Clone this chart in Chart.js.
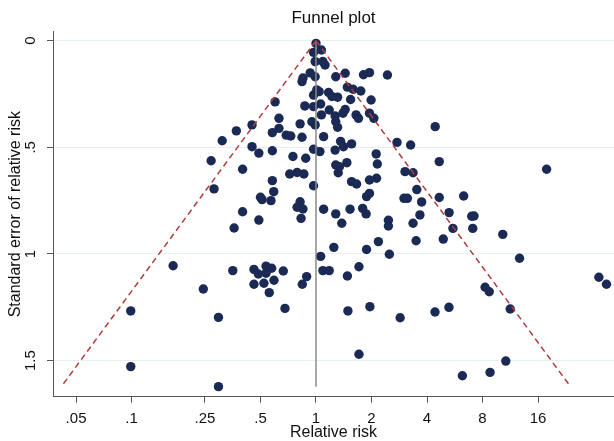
<!DOCTYPE html>
<html>
<head>
<meta charset="utf-8">
<script src="https://cdn.jsdelivr.net/npm/chart.js@4.4.1/dist/chart.umd.min.js"></script>
<style>
  body { margin: 0; background: #ffffff; }
  #wrap { width: 614px; height: 441px; }
</style>
</head>
<body>
<div id="wrap"><canvas id="funil" width="614" height="441"></canvas></div>
<script>
// valores (risco relativo x erro padrão)
const relRisk = [
    1.00, 0.97, 1.07, 0.99, 1.09, 1.12, 0.85, 0.93, 0.99, 0.84,
    1.28, 1.44, 1.81, 1.95, 2.44, 0.97, 1.01, 1.04, 1.17, 1.22,
    1.31, 1.48, 1.59, 1.75, 1.54, 1.99, 0.87, 0.97, 1.06, 1.07,
    1.18, 1.27, 1.40, 1.44, 1.65, 1.70, 1.95, 2.06, 0.95, 0.99,
    0.82, 1.28, 1.31, 0.60, 0.63, 0.58, 0.63, 0.69, 0.73, 0.84,
    0.45, 0.37, 0.31, 1.10, 1.36, 1.56, 1.41, 1.27, 2.75, 3.26,
    4.43, 0.45, 0.49, 0.58, 0.75, 0.88, 0.97, 1.05, 1.28, 1.34,
    1.47, 1.32, 2.12, 2.15, 0.27, 0.40, 4.66, 17.8, 0.72, 0.79,
    0.86, 0.58, 0.59, 0.97, 1.56, 1.66, 1.95, 2.13, 0.28, 3.04,
    3.36, 3.52, 1.88, 1.95, 0.50, 0.51, 0.57, 0.82, 0.79, 0.85,
    3.00, 3.13, 3.74, 4.66, 6.32, 0.40, 1.10, 1.28, 1.53, 1.79,
    1.87, 3.66, 5.27, 6.99, 7.19, 0.49, 0.83, 1.38, 2.47, 2.47,
    3.36, 5.53, 7.08, 0.36, 10.3, 2.18, 3.49, 4.90, 1.25, 1.88,
    2.50, 1.06, 12.7, 0.168, 0.354, 0.461, 0.487, 0.536, 0.575, 0.536,
    0.665, 0.461, 0.522, 0.592, 0.558, 0.843, 0.89, 0.679, 0.245, 0.099,
    0.296, 0.099, 0.296, 1.09, 1.18, 1.48, 1.71, 1.49, 1.96, 2.86,
    4.42, 5.26, 1.71, 6.22, 8.79, 10.7, 8.26, 8.70, 11.3, 34.2,
    37.6
];

const stdErr = [
    0.013, 0.055, 0.044, 0.098, 0.098, 0.114, 0.175, 0.151, 0.169, 0.192,
    0.169, 0.153, 0.160, 0.150, 0.161, 0.255, 0.231, 0.239, 0.243, 0.262,
    0.265, 0.218, 0.228, 0.236, 0.276, 0.278, 0.306, 0.309, 0.297, 0.348,
    0.325, 0.353, 0.340, 0.323, 0.348, 0.364, 0.340, 0.364, 0.380, 0.395,
    0.390, 0.380, 0.406, 0.287, 0.364, 0.431, 0.411, 0.443, 0.447, 0.453,
    0.395, 0.423, 0.469, 0.450, 0.472, 0.484, 0.497, 0.513, 0.477, 0.489,
    0.403, 0.497, 0.527, 0.516, 0.543, 0.551, 0.509, 0.520, 0.583, 0.591,
    0.572, 0.619, 0.531, 0.578, 0.563, 0.603, 0.567, 0.603, 0.625, 0.618,
    0.625, 0.656, 0.708, 0.680, 0.661, 0.672, 0.653, 0.645, 0.695, 0.614,
    0.619, 0.698, 0.731, 0.716, 0.734, 0.745, 0.750, 0.755, 0.781, 0.789,
    0.739, 0.739, 0.756, 0.735, 0.728, 0.802, 0.790, 0.812, 0.790, 0.786,
    0.812, 0.817, 0.806, 0.823, 0.822, 0.841, 0.833, 0.856, 0.842, 0.869,
    0.856, 0.880, 0.880, 0.878, 0.908, 0.942, 0.938, 0.930, 0.969, 0.979,
    1.001, 1.011, 1.020, 1.055, 1.078, 1.072, 1.094, 1.057, 1.067, 1.090,
    1.080, 1.142, 1.137, 1.123, 1.181, 1.142, 1.106, 1.255, 1.164, 1.267,
    1.297, 1.528, 1.622, 1.078, 1.078, 1.103, 1.060, 1.267, 1.247, 1.299,
    1.272, 1.250, 1.470, 1.571, 1.555, 1.502, 1.156, 1.177, 1.258, 1.109,
    1.142
];

// limites do funil (pseudo IC 95%) e linha do efeito nulo
const funilSe = [0, 1.622];
const funilEsq = [1, 0.0416];
const funilDir = [1, 24.0];
const linhaNula = [1, 1];

const xTicks = [0.05, 0.1, 0.25, 0.5, 1, 2, 4, 8, 16];
const xTickLabels = ['.05', '.1', '.25', '.5', '1', '2', '4', '8', '16'];
const yTicks = [0, 0.5, 1, 1.5];
const yTickLabels = ['0', '.5', '1', '1.5'];

Chart.defaults.font.family = '"Liberation Sans", Arial, sans-serif';
Chart.defaults.color = '#111111';

const pontos = relRisk.map((v, i) => ({ x: v, y: stdErr[i] }));

const config = {
    type: 'scatter',
    data: {
        datasets: [
            {
                type: 'line',
                data: funilSe.map((s, i) => ({ x: funilEsq[i], y: s })),
                borderColor: '#b23c3c',
                borderWidth: 1.5,
                borderDash: [6, 4],
                pointRadius: 0,
                fill: false
            },
            {
                type: 'line',
                data: funilSe.map((s, i) => ({ x: funilDir[i], y: s })),
                borderColor: '#b23c3c',
                borderWidth: 1.5,
                borderDash: [6, 4],
                pointRadius: 0,
                fill: false
            },
            {
                type: 'line',
                data: funilSe.map((s, i) => ({ x: linhaNula[i], y: s })),
                borderColor: '#8a8a8a',
                borderWidth: 1.5,
                pointRadius: 0,
                fill: false
            },
            {
                data: pontos,
                backgroundColor: '#1a2a55',
                borderWidth: 0,
                pointRadius: 4.7
            }
        ]
    },
    options: {
        responsive: false,
        animation: false,
        layout: { padding: 0, autoPadding: false },
        plugins: {
            legend: { display: false },
            tooltip: { enabled: false },
            title: {
                display: true,
                text: 'Funnel plot',
                fullSize: false,
                color: '#111111',
                font: { size: 17, weight: 'normal', lineHeight: 1.2 },
                padding: { top: 8, bottom: 3.3 }
            }
        },
        scales: {
            x: {
                type: 'logarithmic',
                position: 'bottom',
                min: 0.0375,
                max: 41.3,
                afterBuildTicks: (s) => { s.ticks = xTicks.map(v => ({ value: v })); },
                afterFit: (s) => { s.height = 44.3; },
                ticks: {
                    autoSkip: false,
                    maxRotation: 0,
                    minRotation: 0,
                    padding: 7,
                    font: { size: 15 },
                    callback: (v, i) => xTickLabels[i]
                },
                grid: {
                    drawOnChartArea: false,
                    drawTicks: true,
                    tickLength: 6,
                    tickColor: '#555555',
                    lineWidth: 1
                },
                border: { color: '#555555', width: 1 },
                title: {
                    display: true,
                    text: 'Relative risk',
                    font: { size: 16, lineHeight: 1 },
                    padding: { top: 0, bottom: 0 }
                }
            },
            y: {
                type: 'linear',
                reverse: true,
                min: -0.042,
                max: 1.669,
                afterBuildTicks: (s) => { s.ticks = yTicks.map(v => ({ value: v })); },
                afterFit: (s) => { s.width = 53; },
                ticks: {
                    autoSkip: false,
                    minRotation: 90,
                    maxRotation: 90,
                    crossAlign: 'center',
                    padding: 5.6,
                    font: { size: 15 },
                    callback: (v, i) => yTickLabels[i]
                },
                grid: {
                    color: '#e6eff1',
                    tickColor: '#555555',
                    tickLength: 6,
                    lineWidth: 1
                },
                border: { color: '#555555', width: 1 },
                title: {
                    display: true,
                    text: 'Standard error of relative risk',
                    font: { size: 16, lineHeight: 1 },
                    padding: { top: 7.5, bottom: 0 }
                }
            }
        }
    }
};

const grafico = new Chart(document.getElementById('funil'), config);
</script>
</body>
</html>
